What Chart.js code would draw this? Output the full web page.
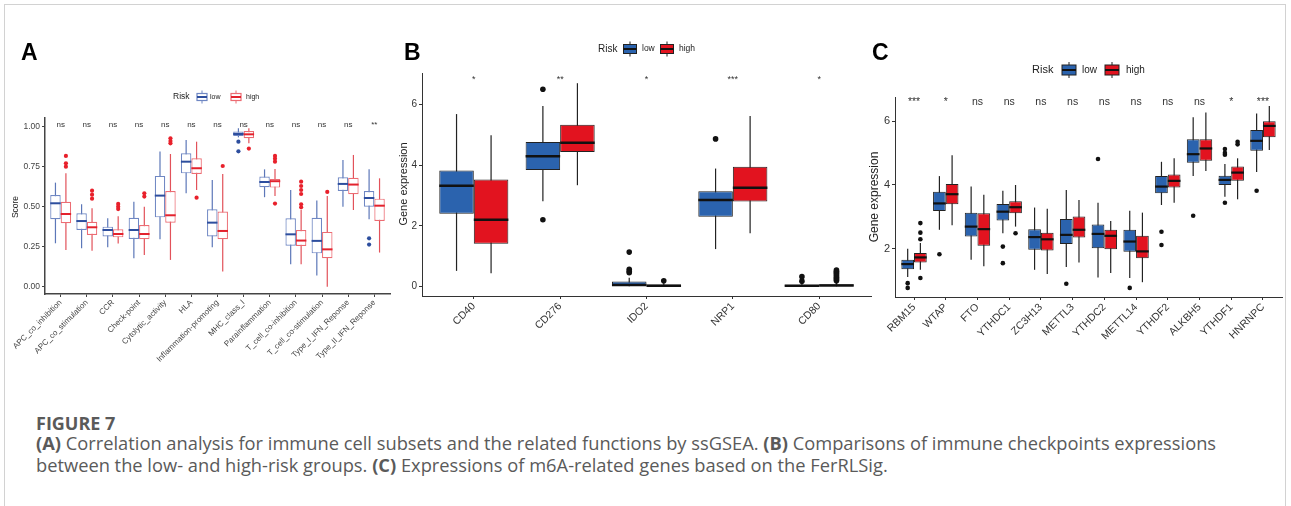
<!DOCTYPE html>
<html lang="en">
<head>
<meta charset="UTF-8">
<title>Figure 7</title>
<script src="https://cdn.jsdelivr.net/npm/chart.js"></script>
<style>
    body { margin: 0; background: #fff; width: 1291px; height: 506px; overflow: hidden; position: relative; }
    .frame { position: absolute; left: 4px; top: 4px; width: 1280px; height: 540px; border: 1px solid #d2d2d2; }
    canvas { position: absolute; }
    .cap { position: absolute; left: 36px; color: #5a5a5a; font-family: 'Open Sans', sans-serif; white-space: nowrap; }
</style>
</head>
<body>
<div class="frame"></div>
<canvas id="chartA"></canvas>
<canvas id="chartB"></canvas>
<canvas id="chartC"></canvas>
<div class="cap" style="top:413px;font-size:18px;line-height:20px;font-weight:700;">FIGURE 7</div>
<div class="cap" style="top:432px;font-size:18.3px;line-height:22px;"><b>(A)</b> Correlation analysis for immune cell subsets and the related functions by ssGSEA. <b>(B)</b> Comparisons of immune checkpoints expressions</div>
<div class="cap" style="top:454px;font-size:18.3px;line-height:22px;">between the low- and high-risk groups. <b>(C)</b> Expressions of m6A-related genes based on the FerRLSig.</div>

<script>
    // ---- Panel A : immune functions (ssGSEA score) ----
    var aCats = ['APC_co_inhibition', 'APC_co_stimulation', 'CCR', 'Check-point', 'Cytolytic_activity', 'HLA',
        'Inflammation-promoting', 'MHC_class_I', 'Parainflammation', 'T_cell_co-inhibition',
        'T_cell_co-stimulation', 'Type_I_IFN_Reponse', 'Type_II_IFN_Reponse'];
    var aSig = ['ns', 'ns', 'ns', 'ns', 'ns', 'ns', 'ns', 'ns', 'ns', 'ns', 'ns', 'ns', '**'];
    var aTicks = [0, 0.25, 0.5, 0.75, 1];
    // each box: [lower whisker, Q1, median, Q3, upper whisker]
    var aLowBox = [
        [0.271, 0.421, 0.521, 0.573, 0.650],
        [0.240, 0.354, 0.410, 0.458, 0.515],
        [0.246, 0.313, 0.354, 0.375, 0.427],
        [0.177, 0.298, 0.354, 0.431, 0.531],
        [0.296, 0.433, 0.569, 0.692, 0.844],
        [0.583, 0.708, 0.781, 0.833, 0.917],
        [0.246, 0.313, 0.400, 0.483, 0.667],
        [0.933, 0.942, 0.954, 0.969, 0.990],
        [0.559, 0.621, 0.654, 0.688, 0.733],
        [0.140, 0.256, 0.327, 0.427, 0.604],
        [0.069, 0.208, 0.286, 0.431, 0.538],
        [0.500, 0.598, 0.642, 0.683, 0.792],
        [0.421, 0.500, 0.554, 0.598, 0.733]
    ];
    var aLowOut = [[], [], [], [], [], [], [], [0.906, 0.846], [], [], [], [], [0.302, 0.263]];
    var aHighBox = [
        [0.229, 0.396, 0.454, 0.531, 0.708],
        [0.225, 0.323, 0.371, 0.406, 0.490],
        [0.270, 0.308, 0.329, 0.358, 0.440],
        [0.198, 0.296, 0.329, 0.385, 0.500],
        [0.167, 0.400, 0.446, 0.598, 0.829],
        [0.604, 0.704, 0.740, 0.802, 0.906],
        [0.094, 0.296, 0.348, 0.469, 0.704],
        [0.896, 0.927, 0.952, 0.973, 0.990],
        [0.567, 0.619, 0.659, 0.673, 0.735],
        [0.140, 0.254, 0.288, 0.354, 0.479],
        [0.000, 0.177, 0.233, 0.342, 0.567],
        [0.479, 0.577, 0.638, 0.681, 0.823],
        [0.213, 0.410, 0.506, 0.550, 0.677]
    ];
    var aHighOut = [[0.817, 0.771, 0.750], [0.600, 0.575, 0.550], [0.517, 0.500, 0.485], [0.583, 0.563],
        [0.927, 0.910, 0.896], [0.556], [0.754], [0.863], [0.817, 0.800, 0.781, 0.519],
        [0.656, 0.629, 0.604, 0.579, 0.515, 0.496], [0.592], [], []];

    // ---- Panel B : immune checkpoints ----
    var bCats = ['CD40', 'CD276', 'IDO2', 'NRP1', 'CD80'];
    var bSig = ['*', '**', '*', '***', '*'];
    var bTicks = [0, 2, 4, 6];
    var bLowBox = [
        [0.51, 2.40, 3.32, 3.83, 5.69],
        [2.81, 3.84, 4.30, 4.77, 5.96],
        [0.00, 0.00, 0.04, 0.16, 0.28],
        [1.23, 2.30, 2.85, 3.14, 3.89],
        [0.00, 0.00, 0.02, 0.05, 0.10]
    ];
    var bLowOut = [[], [6.51, 2.20], [1.13, 0.56, 0.50, 0.45], [4.87], [0.32, 0.17]];
    var bHighBox = [
        [0.43, 1.41, 2.20, 3.53, 4.99],
        [3.34, 4.44, 4.74, 5.34, 6.71],
        [0.00, 0.00, 0.02, 0.06, 0.12],
        [1.75, 2.80, 3.26, 3.95, 5.63],
        [0.00, 0.00, 0.03, 0.07, 0.14]
    ];
    var bHighOut = [[], [], [0.185], [], [0.18, 0.22, 0.26, 0.30, 0.34, 0.38, 0.42, 0.46, 0.50, 0.54]];

    // ---- Panel C : m6A-related genes ----
    var cCats = ['RBM15', 'WTAP', 'FTO', 'YTHDC1', 'ZC3H13', 'METTL3', 'YTHDC2', 'METTL14', 'YTHDF2', 'ALKBH5', 'YTHDF1', 'HNRNPC'];
    var cSig = ['***', '*', 'ns', 'ns', 'ns', 'ns', 'ns', 'ns', 'ns', 'ns', '*', '***'];
    var cTicks = [2, 4, 6];
    var cLowBox = [
        [1.10, 1.35, 1.51, 1.65, 1.99],
        [2.59, 3.18, 3.42, 3.79, 4.28],
        [1.65, 2.38, 2.69, 3.13, 3.95],
        [2.48, 2.88, 3.16, 3.40, 3.82],
        [1.33, 1.96, 2.36, 2.61, 3.29],
        [1.42, 2.14, 2.43, 2.93, 3.84],
        [1.09, 2.01, 2.46, 2.76, 3.44],
        [1.07, 1.90, 2.22, 2.59, 3.19],
        [3.37, 3.74, 3.95, 4.28, 4.73],
        [4.28, 4.70, 4.97, 5.44, 6.13],
        [3.63, 4.00, 4.16, 4.29, 4.66],
        [4.41, 5.08, 5.39, 5.73, 6.25]
    ];
    var cLowOut = [[0.91, 0.76], [1.82], [], [2.06, 1.54], [], [0.89], [4.82], [0.76], [2.53, 2.11], [3.03],
        [5.13, 5.01, 4.95, 3.44], [3.82]];
    var cHighBox = [
        [1.33, 1.56, 1.72, 1.86, 2.17],
        [2.73, 3.39, 3.71, 4.03, 4.94],
        [1.44, 2.09, 2.61, 3.11, 3.69],
        [2.69, 3.11, 3.30, 3.49, 4.00],
        [1.20, 1.94, 2.29, 2.50, 3.25],
        [1.56, 2.35, 2.59, 3.01, 3.53],
        [1.23, 1.98, 2.40, 2.59, 2.87],
        [0.94, 1.69, 1.91, 2.40, 3.13],
        [3.44, 3.92, 4.13, 4.33, 4.84],
        [4.44, 4.76, 5.15, 5.44, 6.28],
        [3.55, 4.13, 4.39, 4.58, 4.84],
        [5.10, 5.50, 5.86, 6.01, 6.49]
    ];
    var cHighOut = [[2.80, 2.50, 2.29, 1.07], [], [], [2.48], [], [], [], [], [], [], [5.36, 5.28], []];

    var FONT = "'Liberation Sans', Arial, sans-serif";

    // draws a ggplot-like box key
    function drawKey(ctx, cx, cy, w, h, fill, stroke, med, lw) {
        ctx.save();
        ctx.strokeStyle = stroke;
        ctx.lineWidth = 1;
        ctx.beginPath();
        ctx.moveTo(cx, cy - h / 2 - 3);
        ctx.lineTo(cx, cy + h / 2 + 3);
        ctx.stroke();
        ctx.fillStyle = fill;
        ctx.fillRect(cx - w / 2, cy - h / 2, w, h);
        ctx.lineWidth = lw;
        ctx.strokeRect(cx - w / 2, cy - h / 2, w, h);
        ctx.strokeStyle = med;
        ctx.lineWidth = 2;
        ctx.beginPath();
        ctx.moveTo(cx - w / 2, cy);
        ctx.lineTo(cx + w / 2, cy);
        ctx.stroke();
        ctx.restore();
    }

    function boxPlugin(p) {
        return {
            id: 'boxExtras',
            beforeDatasetsDraw: function (chart) {
                var ctx = chart.ctx, ys = chart.scales.y;
                [p.lowBox, p.highBox].forEach(function (boxes, di) {
                    var meta = chart.getDatasetMeta(di);
                    ctx.save();
                    ctx.strokeStyle = di ? p.highWhisker : p.lowWhisker;
                    ctx.lineWidth = p.whiskerWidth;
                    meta.data.forEach(function (el, i) {
                        var b = boxes[i];
                        ctx.beginPath();
                        ctx.moveTo(el.x, ys.getPixelForValue(b[0]));
                        ctx.lineTo(el.x, ys.getPixelForValue(b[4]));
                        ctx.stroke();
                    });
                    ctx.restore();
                });
            },
            afterDatasetsDraw: function (chart) {
                var ctx = chart.ctx, ys = chart.scales.y;
                [[p.lowBox, p.lowOut], [p.highBox, p.highOut]].forEach(function (g, di) {
                    var meta = chart.getDatasetMeta(di);
                    ctx.save();
                    meta.data.forEach(function (el, i) {
                        var b = g[0][i], ym = ys.getPixelForValue(b[2]);
                        ctx.strokeStyle = di ? p.highMedian : p.lowMedian;
                        ctx.lineWidth = p.medianWidth;
                        ctx.beginPath();
                        ctx.moveTo(el.x - el.width / 2, ym);
                        ctx.lineTo(el.x + el.width / 2, ym);
                        ctx.stroke();
                        ctx.fillStyle = di ? p.highPoint : p.lowPoint;
                        g[1][i].forEach(function (v) {
                            ctx.beginPath();
                            ctx.arc(el.x, ys.getPixelForValue(v), p.pointR, 0, Math.PI * 2);
                            ctx.fill();
                        });
                    });
                    ctx.restore();
                });
            },
            afterDraw: function (chart) {
                var ctx = chart.ctx, xs = chart.scales.x, ys = chart.scales.y;
                ctx.save();
                // significance labels
                ctx.fillStyle = '#333';
                ctx.font = p.sigFont + 'px ' + FONT;
                ctx.textAlign = 'center';
                ctx.textBaseline = 'alphabetic';
                p.sig.forEach(function (s, i) {
                    ctx.fillText(s, xs.getPixelForValue(i), ys.getPixelForValue(p.sigY));
                });
                ctx.translate(-p.x0, -p.y0);
                // panel letter
                ctx.fillStyle = '#000';
                ctx.font = 'bold 23px ' + FONT;
                ctx.textAlign = 'left';
                ctx.fillText(p.letter, p.letterX, 60);
                // y title
                ctx.save();
                ctx.translate(p.titleX, p.titleY);
                ctx.rotate(-Math.PI / 2);
                ctx.textAlign = 'center';
                ctx.textBaseline = 'middle';
                ctx.fillStyle = '#222';
                ctx.font = p.titleFont + 'px ' + FONT;
                ctx.fillText(p.title, 0, 0);
                ctx.restore();
                // legend
                var L = p.legend;
                ctx.textBaseline = 'middle';
                ctx.textAlign = 'left';
                ctx.fillStyle = '#222';
                ctx.font = L.titleFont + 'px ' + FONT;
                ctx.fillText('Risk', L.x, L.y);
                drawKey(ctx, L.k1, L.y, L.kw, L.kh, p.lowFill, p.lowBorder, p.lowMedian, p.boxBorderWidth);
                drawKey(ctx, L.k2, L.y, L.kw, L.kh, p.highFill, p.highBorder, p.highMedian, p.boxBorderWidth);
                ctx.fillStyle = '#222';
                ctx.font = L.labFont + 'px ' + FONT;
                ctx.fillText('low', L.t1, L.y);
                ctx.fillText('high', L.t2, L.y);
                ctx.restore();
            }
        };
    }

    function makeBoxChart(id, p) {
        var cv = document.getElementById(id);
        cv.width = p.w;
        cv.height = p.h;
        cv.style.left = p.x0 + 'px';
        cv.style.top = p.y0 + 'px';
        function ds(label, boxes, fill, border) {
            return {
                label: label,
                data: boxes.map(function (b, i) { return { x: i, y: [b[1], b[3]] }; }),
                backgroundColor: fill,
                borderColor: border,
                borderWidth: p.boxBorderWidth,
                borderSkipped: false,
                categoryPercentage: 0.8,
                barPercentage: 1.0
            };
        }
        var axisGrid = { drawOnChartArea: false, drawTicks: true, tickLength: 3, color: p.axisColor, lineWidth: 1 };
        return new Chart(cv, {
            type: 'bar',
            data: { datasets: [ds('low', p.lowBox, p.lowFill, p.lowBorder), ds('high', p.highBox, p.highFill, p.highBorder)] },
            options: {
                responsive: false,
                animation: false,
                layout: { padding: p.pad },
                plugins: { legend: { display: false }, tooltip: { enabled: false } },
                scales: {
                    x: {
                        type: 'linear',
                        min: -0.6,
                        max: p.cats.length - 0.4,
                        offset: false,
                        grid: Object.assign({ offset: false }, axisGrid),
                        border: { display: true, color: p.axisColor, width: p.axisWidth },
                        afterBuildTicks: function (s) { s.ticks = p.cats.map(function (c, i) { return { value: i }; }); },
                        afterFit: function (s) { s.height = p.xH; },
                        ticks: {
                            autoSkip: false, minRotation: 45, maxRotation: 45, padding: 1,
                            color: p.tickColor, font: { family: FONT, size: p.xFont },
                            callback: function (v) { return p.cats[v]; }
                        }
                    },
                    y: {
                        min: p.yMin,
                        max: p.yMax,
                        grid: axisGrid,
                        border: { display: true, color: p.axisColor, width: p.axisWidth },
                        afterBuildTicks: function (s) { s.ticks = p.yTicks.map(function (v) { return { value: v }; }); },
                        afterFit: function (s) { s.width = p.yW; },
                        ticks: {
                            padding: 2, color: p.tickColor, font: { family: FONT, size: p.yFont },
                            callback: function (v) { return p.yDec ? v.toFixed(p.yDec) : String(v); }
                        }
                    }
                }
            },
            plugins: [boxPlugin(p)]
        });
    }

    makeBoxChart('chartA', {
        x0: 0, y0: 30, w: 395, h: 370,
        pad: { left: 0, top: 88, right: 5, bottom: 0 }, yW: 45, xH: 106,
        cats: aCats, sig: aSig, yTicks: aTicks, yMin: -0.046, yMax: 1.054, yDec: 2, sigY: 1.0,
        lowBox: aLowBox, highBox: aHighBox, lowOut: aLowOut, highOut: aHighOut,
        lowFill: '#ffffff', highFill: '#ffffff', lowBorder: '#6F87C3', highBorder: '#EC6C73',
        lowWhisker: '#5C77B8', highWhisker: '#E2525A', lowMedian: '#2D4E9E', highMedian: '#E3222D',
        lowPoint: '#2D4E9E', highPoint: '#E8202B',
        boxBorderWidth: 1.2, whiskerWidth: 1.2, medianWidth: 2, pointR: 2.1,
        axisColor: '#444', axisWidth: 1.5, tickColor: '#444', xFont: 8, yFont: 8.5, sigFont: 8,
        letter: 'A', letterX: 21, title: 'Score', titleX: 16, titleY: 207, titleFont: 8.5,
        legend: { x: 173, y: 97, titleFont: 8.5, labFont: 7, k1: 202, k2: 236, t1: 210, t2: 246, kw: 10, kh: 7 }
    });

    makeBoxChart('chartB', {
        x0: 395, y0: 30, w: 480, h: 370,
        pad: { left: 0, top: 43, right: 4, bottom: 0 }, yW: 27, xH: 104,
        cats: bCats, sig: bSig, yTicks: bTicks, yMin: -0.32, yMax: 7.047, yDec: 0, sigY: 6.75,
        lowBox: bLowBox, highBox: bHighBox, lowOut: bLowOut, highOut: bHighOut,
        lowFill: '#2B63AE', highFill: '#E2131F', lowBorder: '#222', highBorder: '#222',
        lowWhisker: '#222', highWhisker: '#222', lowMedian: '#111', highMedian: '#111',
        lowPoint: '#111', highPoint: '#111',
        boxBorderWidth: 1, whiskerWidth: 1.2, medianWidth: 2.5, pointR: 2.8,
        axisColor: '#333', axisWidth: 1, tickColor: '#333', xFont: 10.5, yFont: 10, sigFont: 9,
        letter: 'B', letterX: 404, title: 'Gene expression', titleX: 404, titleY: 184, titleFont: 11,
        legend: { x: 598, y: 49, titleFont: 10, labFont: 8.5, k1: 630, k2: 667, t1: 642, t2: 679, kw: 13, kh: 9 }
    });

    makeBoxChart('chartC', {
        x0: 860, y0: 30, w: 431, h: 370,
        pad: { left: 0, top: 67, right: 9, bottom: 0 }, yW: 35, xH: 103,
        cats: cCats, sig: cSig, yTicks: cTicks, yMin: 0.474, yMax: 6.77, yDec: 0, sigY: 6.51,
        lowBox: cLowBox, highBox: cHighBox, lowOut: cLowOut, highOut: cHighOut,
        lowFill: '#2B63AE', highFill: '#E2131F', lowBorder: '#222', highBorder: '#222',
        lowWhisker: '#222', highWhisker: '#222', lowMedian: '#111', highMedian: '#111',
        lowPoint: '#111', highPoint: '#111',
        boxBorderWidth: 1, whiskerWidth: 1.2, medianWidth: 2.2, pointR: 2.3,
        axisColor: '#333', axisWidth: 1, tickColor: '#333', xFont: 10.5, yFont: 11, sigFont: 10.5,
        letter: 'C', letterX: 872, title: 'Gene expression', titleX: 875, titleY: 197, titleFont: 12,
        legend: { x: 1032, y: 70, titleFont: 11, labFont: 10, k1: 1069, k2: 1112, t1: 1082, t2: 1126, kw: 14, kh: 10 }
    });
</script>
</body>
</html>
